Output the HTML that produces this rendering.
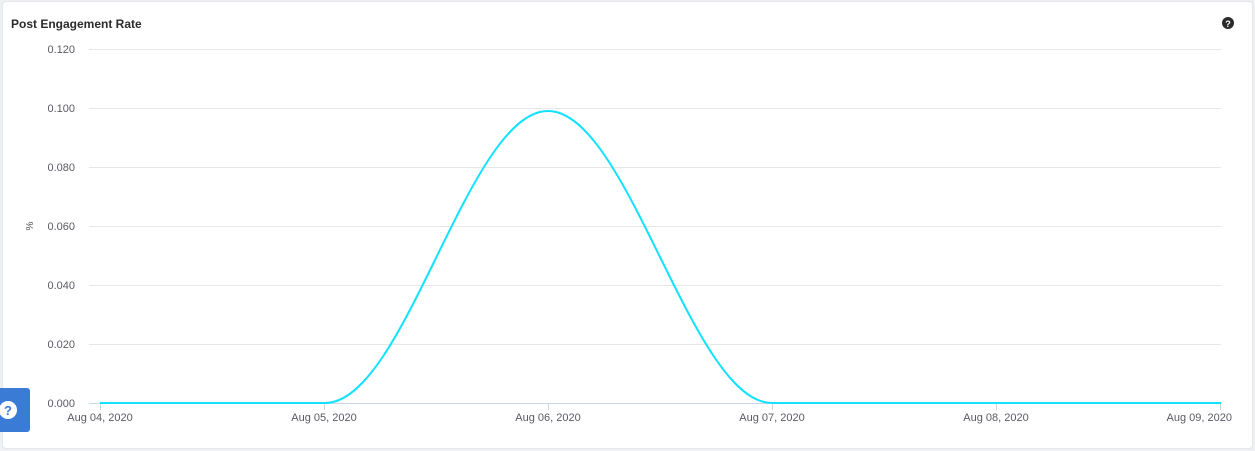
<!DOCTYPE html>
<html><head><style>
html,body{margin:0;padding:0;background:#eef0f3;}
body{width:1255px;height:451px;position:relative;overflow:hidden;font-family:"Liberation Sans",sans-serif;}
.card{position:absolute;left:2px;top:1px;width:1249px;height:446px;background:#fff;border:1px solid #e3e6ea;border-radius:4px;}
.title{position:absolute;left:11px;top:17px;font-size:12px;font-weight:bold;color:#2b2b2b;}
.btn{position:absolute;left:0;top:388px;width:30px;height:44px;background:#3a7bd5;border-radius:0 3px 3px 0;}
</style></head><body>
<div class="card"></div>
<div class="title">Post Engagement Rate</div>
<svg width="1255" height="451" style="position:absolute;left:0;top:0">
<g stroke="#e6e6e6" stroke-width="1">
<line x1="89" x2="1221" y1="49.5" y2="49.5"/>
<line x1="89" x2="1221" y1="108.5" y2="108.5"/>
<line x1="89" x2="1221" y1="167.5" y2="167.5"/>
<line x1="89" x2="1221" y1="226.5" y2="226.5"/>
<line x1="89" x2="1221" y1="285.5" y2="285.5"/>
<line x1="89" x2="1221" y1="344.5" y2="344.5"/>
<line x1="89" x2="1221" y1="403.5" y2="403.5" stroke="#ccd6eb"/>
</g>
<g stroke="#ccd6eb"><line x1="100.5" x2="100.5" y1="403" y2="410"/><line x1="324.5" x2="324.5" y1="403" y2="410"/><line x1="548.5" x2="548.5" y1="403" y2="410"/><line x1="772.5" x2="772.5" y1="403" y2="410"/><line x1="996.5" x2="996.5" y1="403" y2="410"/><line x1="1220.5" x2="1220.5" y1="403" y2="410"/></g>
<g font-size="11" fill="#5a5a66" text-anchor="end">
<text x="75" y="53">0.120</text><text x="75" y="112">0.100</text><text x="75" y="171">0.080</text><text x="75" y="230">0.060</text><text x="75" y="289">0.040</text><text x="75" y="348">0.020</text><text x="75" y="407">0.000</text>
</g>
<text x="0" y="0" font-size="10" fill="#555" text-anchor="middle" transform="translate(33,226) rotate(-90)">%</text>
<g font-size="11" fill="#5a5a66" text-anchor="middle">
<text x="100" y="421">Aug 04, 2020</text><text x="324" y="421">Aug 05, 2020</text><text x="548" y="421">Aug 06, 2020</text><text x="772" y="421">Aug 07, 2020</text><text x="996" y="421">Aug 08, 2020</text><text x="1232" y="421" text-anchor="end">Aug 09, 2020</text>
</g>
<path d="M100,403 L325,403 C405,403 468,111 548,111 C628,111 692,403 772,403 L1221,403" fill="none" stroke="#12e1ff" stroke-width="2"/>
<circle cx="1228" cy="23" r="6" fill="#2b2b2b"/><text x="1228" y="27" font-size="9" font-weight="bold" fill="#fff" text-anchor="middle">?</text>
</svg>
<div class="btn"></div>
<svg width="30" height="44" style="position:absolute;left:0;top:388px"><circle cx="8" cy="22" r="9" fill="#fff"/><text x="8" y="27" font-size="13" font-weight="bold" fill="#3a7bd5" text-anchor="middle" font-family="Liberation Sans">?</text></svg>
</body></html>
